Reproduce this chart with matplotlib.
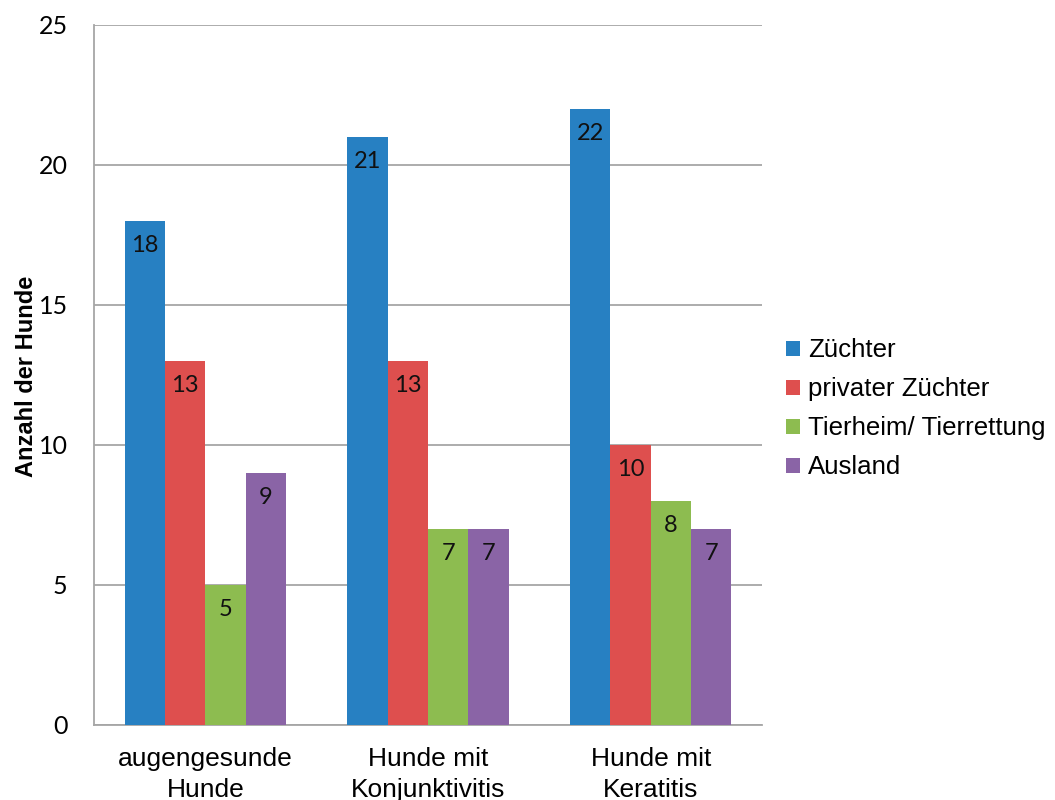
import matplotlib.pyplot as plt
import numpy as np

# Herkunft der Hunde je Gruppe
gruppen = ['augengesunde\nHunde', 'Hunde mit\nKonjunktivitis', 'Hunde mit\nKeratitis']
serien = ['Züchter', 'privater Züchter', 'Tierheim/ Tierrettung', 'Ausland']
zuechter = [18, 21, 22]
privat = [13, 13, 10]
tierheim = [5, 7, 8]
ausland = [9, 7, 7]
farben = ['#2780C2', '#DE4F4E', '#8DBC50', '#8A64A6']

werte = [zuechter, privat, tierheim, ausland]

fig = plt.figure(figsize=(10.55, 8), dpi=100)
ax = fig.add_axes([0.0891, 0.09375, 0.6332, 0.875])

x = np.arange(len(gruppen))
breite = 0.181
for i, (name, vals, col) in enumerate(zip(serien, werte, farben)):
    pos = x + (i - 1.5) * breite
    bars = ax.bar(pos, vals, breite, color=col, label=name, zorder=3)
    for b, v in zip(bars, vals):
        ax.annotate(str(v), (b.get_x() + b.get_width() / 2, v),
                    xytext=(0, -17.5), textcoords='offset points',
                    ha='center', va='center', fontsize=17,
                    family='Lato', color='#111111', zorder=4)

ax.set_xlim(-0.5, 2.5)
ax.set_ylim(0, 25)
ax.set_yticks(range(0, 26, 5))
ax.grid(axis='y', color='#A6A6A6', linewidth=1.3, zorder=0)
ax.set_xticks(x)
ax.set_xticklabels(gruppen, fontsize=19, family='Liberation Sans', linespacing=1.35)
for lab in ax.get_yticklabels():
    lab.set_family('Lato')
    lab.set_fontsize(18)
ax.tick_params(axis='both', length=0)
ax.tick_params(axis='x', pad=16)
ax.tick_params(axis='y', pad=19)

for s in ['top', 'right']:
    ax.spines[s].set_visible(False)
for s in ['left', 'bottom']:
    ax.spines[s].set_color('#A6A6A6')
    ax.spines[s].set_linewidth(1.3)

# Achsentitel links
fig.text(27 / 1055, 0.53, 'Anzahl der Hunde', rotation=90, ha='center', va='center',
         fontsize=17, fontweight='bold', family='Liberation Sans')

fig.legend(loc='center left', bbox_to_anchor=(0.733, 0.489), frameon=False,
           prop={'family': 'Liberation Sans', 'size': 18.6},
           handlelength=0.53, handleheight=0.53, handletextpad=0.3,
           labelspacing=0.58, borderpad=0)

fig.savefig('out.png', dpi=100)
